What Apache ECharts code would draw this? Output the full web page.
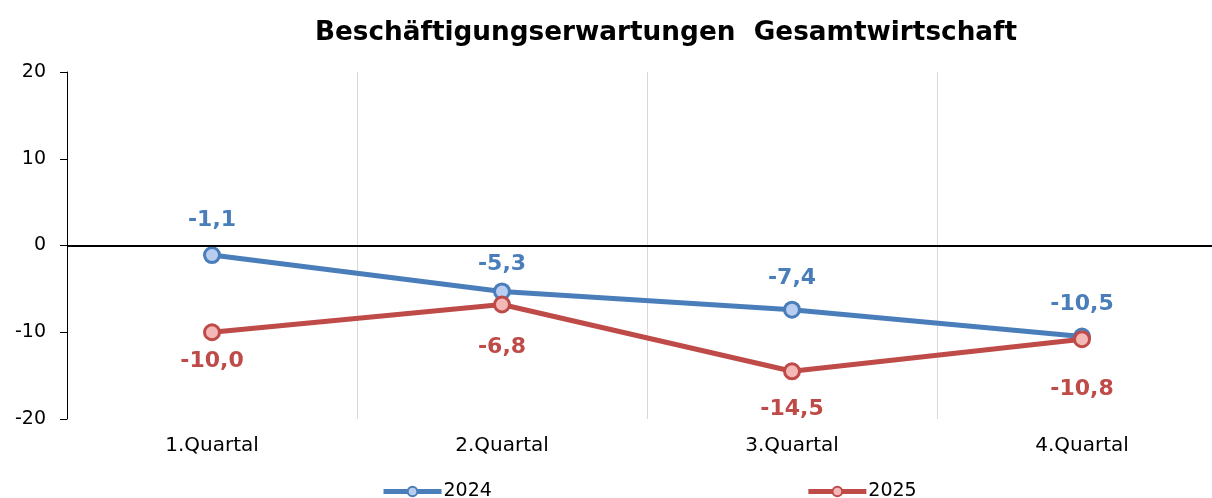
<!DOCTYPE html>
<html>
<head>
<meta charset="utf-8">
<script src="https://cdn.jsdelivr.net/npm/echarts@6/dist/echarts.min.js"></script>
<style>
html,body{margin:0;padding:0;background:#fff;overflow:hidden;width:1212px;height:498px;}
#chart{width:1240px;height:498px;}
</style>
</head>
<body>
<div id="chart"></div>
<script>
var categories = ['1.Quartal', '2.Quartal', '3.Quartal', '4.Quartal'];
var values2024 = [-1.1, -5.3, -7.4, -10.5];
var values2025 = [-10.0, -6.8, -14.5, -10.8];
var seriesNames = ['2024', '2025'];
var yTicks = [-20, -10, 0, 10, 20];

var FONT = 'DejaVu Sans';
var blue = '#4a7ebb', blueFill = '#b9cdf0';
var red = '#be4b48', redFill = '#f4b8b6';
var labelOffset2024 = [-35, -27, -31, -32];
var labelOffset2025 = [29, 43, 38, 50];

function fmt(v) { return v.toFixed(1).replace('.', ','); }

function buildData(vals, offs) {
  return vals.map(function (v, i) {
    return { value: v, label: { position: 'inside', offset: [0, offs[i]] } };
  });
}

var chart = echarts.init(document.getElementById('chart'));
var option = {
  animation: false,
  title: {
    text: 'Beschäftigungserwartungen  Gesamtwirtschaft',
    left: 661, textAlign: 'center', top: 15,
    textStyle: { fontFamily: FONT, fontWeight: 'bold', fontSize: 26.3, color: '#000' }
  },
  legend: {
    data: [
      { name: seriesNames[0], itemStyle: { color: blueFill, borderColor: blue, borderWidth: 2 }, lineStyle: { color: blue, width: 5 } },
      { name: seriesNames[1], itemStyle: { color: redFill, borderColor: red, borderWidth: 2 }, lineStyle: { color: red, width: 5 } }
    ],
    left: 376, top: 477, itemGap: 314, itemWidth: 58, itemHeight: 12,
    textStyle: { fontFamily: FONT, fontSize: 19, color: '#000', padding: [2, 0, 0, -3] }
  },
  grid: { left: 67, top: 72, right: 13, bottom: 79, containLabel: false },
  xAxis: {
    type: 'category', data: categories, boundaryGap: true,
    axisLine: { show: false }, axisTick: { show: false },
    axisLabel: { fontFamily: FONT, fontSize: 20, color: '#000', margin: 17 },
    splitLine: { show: true, lineStyle: { color: '#d9d9d9', width: 1 } }
  },
  yAxis: {
    type: 'value', min: yTicks[0], max: yTicks[yTicks.length - 1], interval: 10,
    axisLine: { show: true, lineStyle: { color: '#000', width: 1 } },
    axisTick: { show: true, length: 7, lineStyle: { color: '#000' } },
    axisLabel: { fontFamily: FONT, fontSize: 19, color: '#000', margin: 21 },
    splitLine: { show: false }
  },
  series: [
    {
      name: seriesNames[0], type: 'line', data: buildData(values2024, labelOffset2024),
      symbol: 'circle', symbolSize: 15, z: 3,
      lineStyle: { color: blue, width: 5 },
      itemStyle: { color: blueFill, borderColor: blue, borderWidth: 3 },
      label: { show: true, formatter: function (p) { return fmt(p.value); },
        fontFamily: FONT, fontWeight: 'bold', fontSize: 22, color: blue },
      markLine: {
        silent: true, symbol: 'none', label: { show: false },
        lineStyle: { color: '#000', width: 2, type: 'solid' },
        data: [{ yAxis: 0 }]
      }
    },
    {
      name: seriesNames[1], type: 'line', data: buildData(values2025, labelOffset2025),
      symbol: 'circle', symbolSize: 15, z: 4,
      lineStyle: { color: red, width: 5 },
      itemStyle: { color: redFill, borderColor: red, borderWidth: 3 },
      label: { show: true, formatter: function (p) { return fmt(p.value); },
        fontFamily: FONT, fontWeight: 'bold', fontSize: 22, color: red }
    }
  ]
};
chart.setOption(option);
</script>
</body>
</html>
